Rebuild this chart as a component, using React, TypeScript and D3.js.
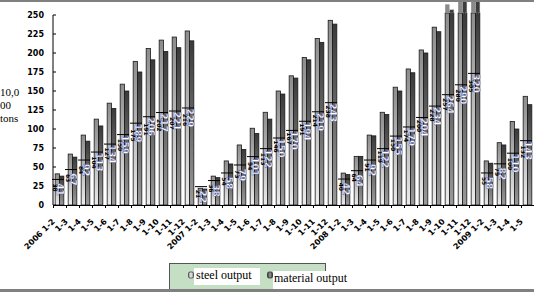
import React from "react";
import * as d3 from "d3";

const categories = [
  "2006 1-2", "1-3", "1-4", "1-5", "1-6", "1-7", "1-8", "1-9", "1-10", "1-11", "1-12",
  "2007 1-2", "1-3 ", "1-4 ", "1-5 ", "1-6 ", "1-7 ", "1-8 ", "1-9 ", "1-10 ", "1-11 ", "1-12 ",
  "2008 1-2", "1-3  ", "1-4  ", "1-5  ", "1-6  ", "1-7  ", "1-8  ", "1-9  ", "1-10  ", "1-11  ", "1-12  ",
  "2009 1-2", "1-3   ", "1-4   ", "1-5   ",
];

const steelOutput = [
  41, 67, 92, 113, 134, 159, 189, 206, 217, 221, 229,
  22, 38, 58, 79, 101, 122, 150, 170, 194, 219, 243,
  42, 64, 92, 122, 155, 179, 204, 234, 264, 290, 320,
  58, 82, 110, 143,
];

const materialOutput = [
  38, 63, 84, 104, 127, 150, 175, 191, 202, 207, 216,
  21, 36, 54, 73, 94, 113, 146, 167, 191, 214, 238,
  40, 64, 91, 119, 150, 174, 200, 228, 257, 280, 305,
  55, 79, 100, 132,
];

const yTicks = [0, 25, 50, 75, 100, 125, 150, 175, 200, 225, 250];
const seriesNames = ["steel output", "material output"];
const yTitleLines = ["10,0", "00", "tons"];

const W = 534;
const H = 292;

export default function App() {
  const x = d3.scaleBand<string>().domain(categories).range([53, 534]).padding(0);
  const inner = d3
    .scaleBand<string>()
    .domain(seriesNames)
    .range([0, x.bandwidth()])
    .paddingInner(0)
    .paddingOuter(0.5);
  const y = d3.scaleLinear().domain([0, 250]).range([205, 15]);
  const clipTop = 13;

  const bars: React.ReactNode[] = [];
  const labels: React.ReactNode[] = [];
  categories.forEach((c, i) => {
    const vals = [steelOutput[i], materialOutput[i]];
    vals.forEach((v, s) => {
      const bx = (x(c) as number) + (inner(seriesNames[s]) as number);
      const bw = inner.bandwidth();
      const top = y(v);
      const clippedTop = Math.max(top, clipTop);
      bars.push(
        <rect
          key={`b${i}-${s}`}
          x={bx}
          y={clippedTop}
          width={bw}
          height={y(0) - clippedTop}
          fill={s === 0 ? "url(#gLight)" : "url(#gDark)"}
          stroke="#1a1a1a"
          strokeWidth={0.8}
        />
      );
      if (top < clipTop) {
        bars.push(
          <rect
            key={`o${i}-${s}`}
            x={bx}
            y={Math.max(top, 0)}
            width={bw}
            height={clipTop - Math.max(top, 0)}
            fill={s === 0 ? "#8a8a8a" : "#3c3c3c"}
            stroke={s === 0 ? "none" : "#cccccc"}
            strokeDasharray="1,1"
            strokeWidth={0.6}
          />
        );
      }
    });
    const x0 = x(c) as number;
    const cx = x0 + (inner(seriesNames[1]) as number) + 0.5;
    const cy = y(steelOutput[i] / 2);
    labels.push(
      <g key={`l${i}`}>
        <line x1={x0 - 1} x2={x0 + 11} y1={cy - 10} y2={cy - 10} stroke="#000" strokeWidth={1} />
        <text
          transform={`translate(${x0 + 2.5},${y(materialOutput[i] / 2) - 3}) rotate(90)`}
          fontFamily="DejaVu Sans"
          fontWeight="bold"
          fontSize={6}
          fill="#000"
          textAnchor="middle"
          dominantBaseline="central"
        >
          {Math.round(materialOutput[i])}
        </text>
        <text
          transform={`translate(${cx + 0.4},${cy}) rotate(90)`}
          fontFamily="DejaVu Sans"
          fontWeight="bold"
          fontSize={9}
          fill="none"
          stroke="#e0a020"
          strokeWidth={0.35}
          textAnchor="middle"
          dominantBaseline="central"
        >
          {Math.round(steelOutput[i])}
        </text>
        <text
          transform={`translate(${cx},${cy}) rotate(90)`}
          fontFamily="DejaVu Sans"
          fontWeight="bold"
          fontSize={9}
          fill="#ffffff"
          stroke="#2346c8"
          strokeWidth={0.35}
          textAnchor="middle"
          dominantBaseline="central"
        >
          {Math.round(steelOutput[i])}
        </text>
      </g>
    );
  });

  return (
    <svg width={W} height={H} style={{ position: "absolute", left: 0, top: 0, background: "#fff" }}>
      <defs>
        <linearGradient id="gLight" x1="0" y1="0" x2="0" y2="1">
          <stop offset="0" stopColor="#8c8c8c" />
          <stop offset="1" stopColor="#ececec" />
        </linearGradient>
        <linearGradient id="gDark" x1="0" y1="0" x2="0" y2="1">
          <stop offset="0" stopColor="#3a3a3a" />
          <stop offset="1" stopColor="#9a9a9a" />
        </linearGradient>
        <linearGradient id="gLegL" x1="0" y1="0" x2="1" y2="0">
          <stop offset="0" stopColor="#888" />
          <stop offset="0.5" stopColor="#eee" />
          <stop offset="1" stopColor="#888" />
        </linearGradient>
        <linearGradient id="gLegD" x1="0" y1="0" x2="1" y2="0">
          <stop offset="0" stopColor="#333" />
          <stop offset="0.5" stopColor="#999" />
          <stop offset="1" stopColor="#333" />
        </linearGradient>
      </defs>
      <rect x={0} y={0} width={W} height={H} fill="#fff" />

      {/* y axis title */}
      <g fontFamily="Liberation Serif" fontSize={11} fill="#000">
        {yTitleLines.map((t, k) => (
          <text key={t} x={0} y={96 + k * 13}>
            {t}
          </text>
        ))}
      </g>

      {bars}

      {/* axes */}
      <line x1={53} x2={53} y1={15} y2={205} stroke="#000" strokeWidth={1} />
      <line x1={53} x2={534} y1={205.5} y2={205.5} stroke="#000" strokeWidth={1} />
      {yTicks.map((t) => (
        <g key={`yt${t}`}>
          <line x1={53} x2={56} y1={y(t)} y2={y(t)} stroke="#000" />
          <text
            x={44}
            y={y(t)}
            textAnchor="end"
            dominantBaseline="central"
            fontFamily="DejaVu Sans"
            fontWeight="bold"
            fontSize={8}
            fill="#000"
          >
            {t}
          </text>
        </g>
      ))}
      {categories.map((c) => (
        <line
          key={`xt${c}`}
          x1={(x(c) as number) + 0.5}
          x2={(x(c) as number) + 0.5}
          y1={205}
          y2={208}
          stroke="#000"
        />
      ))}
      {categories.map((c) => {
        const cx = (x(c) as number) + x.bandwidth() / 2;
        return (
          <text
            key={`xl${c}`}
            transform={`translate(${cx - 4},${222}) rotate(-45)`}
            textAnchor="end"
            fontFamily="DejaVu Sans"
            fontWeight="bold"
            fontSize={8}
            fill="#000"
          >
            {c.trim()}
          </text>
        );
      })}

      {labels}

      {/* legend */}
      <rect x={169.5} y={263.5} width={156} height={26} fill="#c4dfc4" stroke="#555" />
      <rect x={188.5} y={272} width={5} height={6} rx={1.5} fill="url(#gLegL)" stroke="#333" strokeWidth={0.7} />
      <rect x={194} y={268} width={66} height={17} fill="#fff" />
      <text x={196} y={279} fontFamily="Liberation Serif" fontSize={12} fill="#000">
        {seriesNames[0]}
      </text>
      <rect x={267.5} y={272} width={5} height={6} rx={1.5} fill="url(#gLegD)" stroke="#222" strokeWidth={0.7} />
      <rect x={273} y={271} width={74} height={18} fill="#fff" />
      <text x={274} y={282} fontFamily="Liberation Serif" fontSize={12} fill="#000">
        {seriesNames[1]}
      </text>

      {/* frame bars */}
      <rect x={0} y={0} width={W} height={2} fill="#808080" />
      <rect x={0} y={289} width={W} height={3} fill="#808080" />
    </svg>
  );
}
